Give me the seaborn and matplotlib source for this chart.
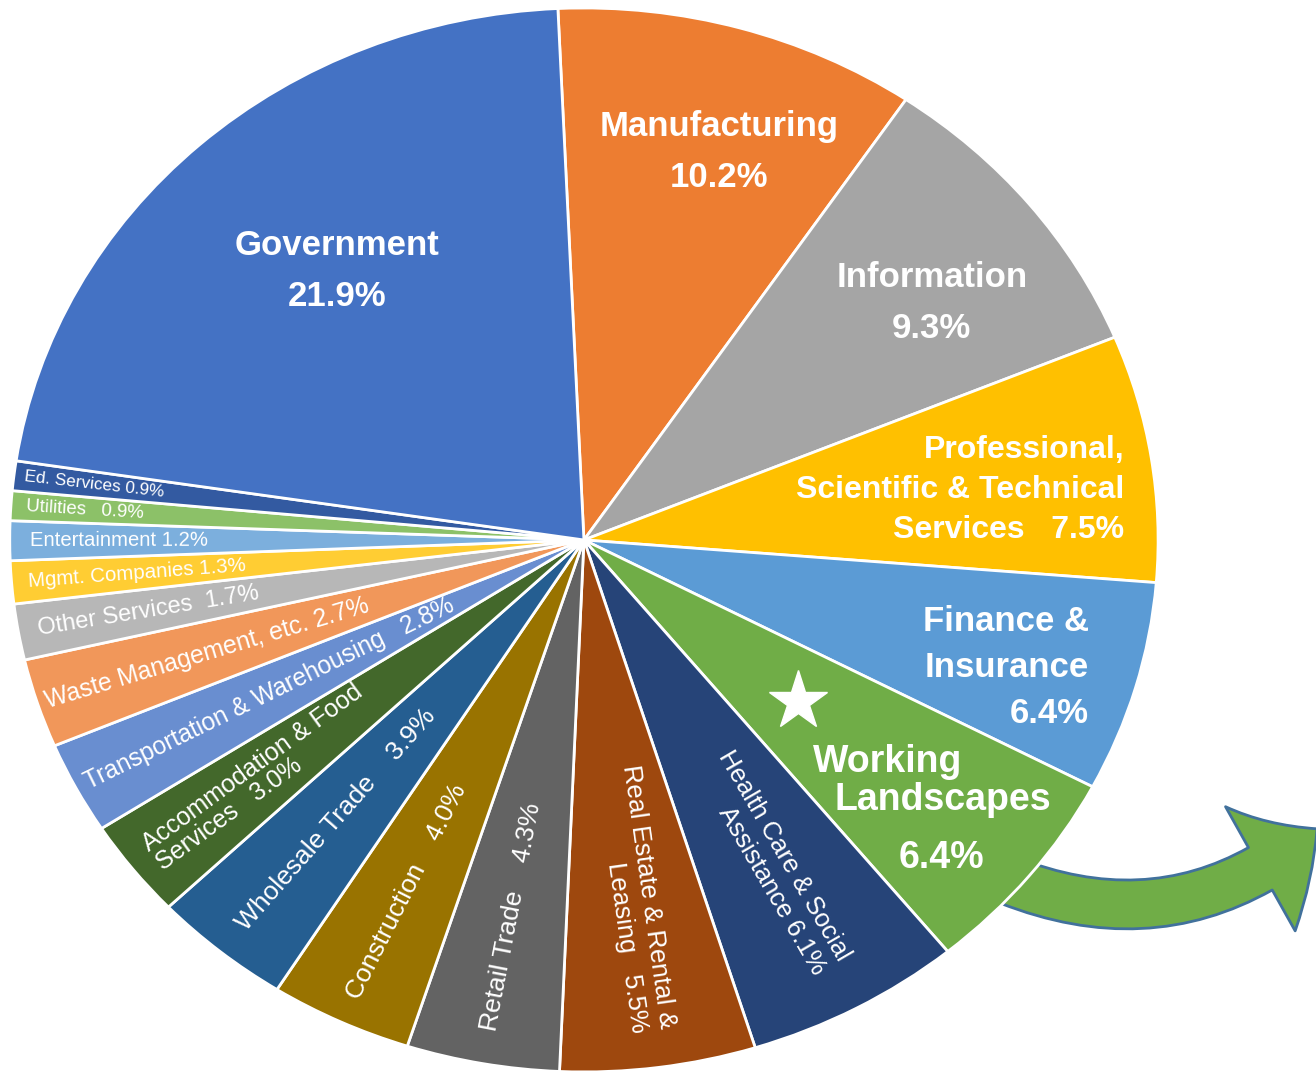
import numpy as np
import matplotlib
matplotlib.use("Agg")
import matplotlib.pyplot as plt
from matplotlib.patches import FancyArrowPatch
import seaborn as sns

sns.set_theme(style="white")
plt.rcParams["font.family"] = ["Liberation Sans", "DejaVu Sans"]

# data, clockwise from the top
industries = ["Manufacturing", "Information", "Professional, Scientific & Technical Services",
              "Finance & Insurance", "Working Landscapes", "Health Care & Social Assistance",
              "Real Estate & Rental & Leasing", "Retail Trade", "Construction", "Wholesale Trade",
              "Accommodation & Food Services", "Transportation & Warehousing",
              "Waste Management, etc.", "Other Services", "Mgmt. Companies", "Entertainment",
              "Utilities", "Ed. Services", "Government"]
shares = [10.2, 9.3, 7.5, 6.4, 6.4, 6.1, 5.5, 4.3, 4.0, 3.9, 3.0, 2.8, 2.7, 1.7, 1.3, 1.2, 0.9, 0.9, 21.9]
label_fmt = ["Manufacturing\n{}", "Information\n{}", "Professional,\nScientific & Technical\nServices   {}",
             "Finance &\nInsurance\n{}", "Working\nLandscapes\n{}", "Health Care & Social\nAssistance {}",
             "Real Estate & Rental &\nLeasing   {}", "Retail Trade    {}", "Construction    {}",
             "Wholesale Trade    {}", "Accommodation & Food\nServices   {}",
             "Transportation & Warehousing   {}", "Waste Management, etc. {}", "Other Services  {}",
             "Mgmt. Companies {}", "Entertainment {}", "Utilities   {}", "Ed. Services {}", "Government\n{}"]
colors = ["#ED7D31", "#A5A5A5", "#FFC000", "#5B9BD5", "#70AD47", "#264478", "#9E480E", "#636363",
          "#997300", "#255E91", "#43682B", "#698ED0", "#F1975A", "#B7B7B7", "#FFCD33", "#7CAFDD",
          "#8CC168", "#335AA1", "#4472C4"]

# label style: radius, angle shift, fontsize, bold, rotated, multialignment, linespacing
label_style = [
    (0.766, -2.1, 25, True, False, "center", 1.69),
    (0.752, -2.8, 25, True, False, "center", 1.69),
    (0.662, -0.7, 23, True, False, "right", 1.44),
    (0.773, -1.9, 25, True, False, "right", 1.5),
    (0.79, 0, 27, True, False, "left", 1.13),
    (0.69, 0, 18.5, False, True, "right", 1.22),
    (0.68, 0, 18.7, False, True, "right", 1.22),
    (0.72, 0, 19, False, True, "left", 1.0),
    (0.73, 0, 19, False, True, "left", 1.0),
    (0.68, 0, 19, False, True, "left", 1.0),
    (0.72, 0, 18, False, True, "left", 0.95),
    (0.62, 0, 17.7, False, True, "left", 1.0),
    (0.69, 0, 17.8, False, True, "left", 1.0),
    (0.77, 0, 17, False, True, "left", 1.0),
    (0.78, 0, 14.8, False, True, "left", 1.0),
    (0.81, 0, 14.6, False, True, "left", 1.0),
    (0.87, 0, 13.4, False, True, "left", 1.0),
    (0.86, 0, 12.3, False, True, "left", 1.0),
    (0.664, -1.6, 25, True, False, "center", 1.69),
]

fig = plt.figure(figsize=(13.16, 10.73), dpi=100)
ax = fig.add_axes([0, 0, 1, 1])

wedges, _ = ax.pie(shares, colors=colors, startangle=92.6, counterclock=False, radius=1,
                   wedgeprops=dict(edgecolor="white", linewidth=2))
for w in wedges:
    w.set_zorder(3)
ax.set_aspect("auto")
ax.set_xlim(-1.017, 1.275)
ax.set_ylim(-1.002, 1.015)
ax.axis("off")

# pixels per data unit (pie is drawn as a slightly wide ellipse)
sx, sy = 574, 532

for w, fmt, v, st in zip(wedges, label_fmt, shares, label_style):
    r, da, fs, bold, rot, malign, ls = st
    mid = np.deg2rad((w.theta1 + w.theta2) / 2)
    pos = mid + np.deg2rad(da)
    x, y = r * np.cos(pos), r * np.sin(pos)
    txt = fmt.format(f"{v:.1f}%")
    angle = 0
    if rot:
        angle = np.degrees(np.arctan2(np.sin(mid) * sy, np.cos(mid) * sx))
        if angle > 90:
            angle -= 180
        elif angle < -90:
            angle += 180
    if fmt.startswith("Working"):
        # highlighted slice: split label, star marker
        ax.text(x - 0.213, y + 0.082, "Working", ha="left", va="center", fontsize=fs,
                fontweight="bold", color="white", zorder=5)
        ax.text(x - 0.176, y + 0.01, "Landscapes", ha="left", va="center", fontsize=fs,
                fontweight="bold", color="white", zorder=5)
        ax.text(x + 0.01, y - 0.099, f"{v:.1f}%", ha="center", va="center", fontsize=fs,
                fontweight="bold", color="white", zorder=5)
        ax.plot(0.48 * np.cos(mid), 0.48 * np.sin(mid), marker="*", ms=44, color="white",
                mec="white", zorder=5)
        continue
    ax.text(x, y, txt, ha="center", va="center", rotation=angle, rotation_mode="anchor",
            multialignment=malign, fontsize=fs, fontweight="bold" if bold else "normal",
            color="white", linespacing=ls, zorder=5)

# green arrow leaving the Working Landscapes slice
arrow = FancyArrowPatch((0.74, -0.64), (1.277, -0.543), connectionstyle="arc3,rad=0.3",
                        arrowstyle="simple,head_length=1.0,head_width=2.05,tail_width=0.7",
                        mutation_scale=50, facecolor="#70AD47", edgecolor="#41719C",
                        linewidth=2, shrinkA=0, shrinkB=0, zorder=1, clip_on=False)
ax.add_patch(arrow)

fig.savefig("out.png", dpi=100, facecolor="white")
